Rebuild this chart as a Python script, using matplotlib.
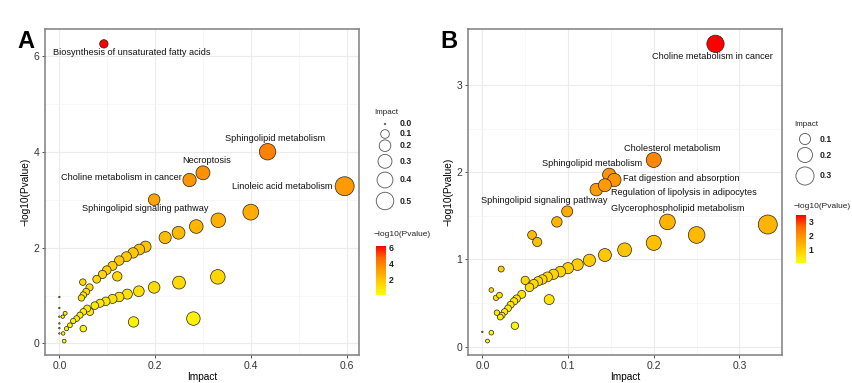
import matplotlib
matplotlib.use("Agg")
import matplotlib.pyplot as plt
import numpy as np
from matplotlib.colors import LinearSegmentedColormap, Normalize
from matplotlib.cm import ScalarMappable

plt.rcParams["font.family"] = ["Liberation Sans", "DejaVu Sans"]

# ---- panel A data (Impact, -log10(Pvalue)) ----
a_impact = [0.093, 0.435, 0.30, 0.272, 0.596, 0.198,
            0.40, 0.332, 0.286, 0.249, 0.221, 0.18, 0.167, 0.154, 0.14, 0.125,
            0.111, 0.099, 0.09, 0.078, 0.063, 0.056, 0.05, 0.046,
            0.049, 0.121,
            0.331, 0.25, 0.198, 0.166, 0.142, 0.125, 0.111, 0.097, 0.085, 0.074,
            0.064, 0.058, 0.05, 0.043, 0.036, 0.029, 0.022, 0.015, 0.008,
            0.28, 0.155, 0.05,
            0.0, 0.0, 0.0, 0.0, 0.0, 0.0, 0.012, 0.007, 0.01]
a_logp = [6.25, 4.00, 3.56, 3.41, 3.28, 3.00,
          2.74, 2.57, 2.44, 2.31, 2.21, 2.02, 1.96, 1.89, 1.81, 1.73,
          1.62, 1.53, 1.44, 1.34, 1.17, 1.08, 1.01, 0.95,
          1.28, 1.40,
          1.39, 1.27, 1.17, 1.09, 1.03, 0.97, 0.93, 0.88, 0.84, 0.79,
          0.66, 0.73, 0.66, 0.59, 0.52, 0.47, 0.38, 0.31, 0.21,
          0.52, 0.45, 0.31,
          0.97, 0.74, 0.56, 0.42, 0.32, 0.21, 0.63, 0.56, 0.05]
a_labels = ["Biosynthesis of unsaturated fatty acids", "Sphingolipid metabolism",
            "Necroptosis", "Choline metabolism in cancer",
            "Linoleic acid metabolism", "Sphingolipid signaling pathway"]

# ---- panel B data ----
b_impact = [0.272, 0.2, 0.148, 0.154, 0.133, 0.099, 0.216,
            0.143, 0.087, 0.058, 0.064, 0.333, 0.25, 0.2, 0.166, 0.143, 0.125,
            0.111, 0.1, 0.091, 0.083, 0.076, 0.070, 0.065, 0.060, 0.055, 0.05,
            0.046, 0.040, 0.037, 0.033, 0.030, 0.026, 0.023, 0.021,
            0.078, 0.038, 0.022, 0.0105, 0.016, 0.020, 0.017, 0.0105, 0.006, 0.0]
b_logp = [3.47, 2.14, 1.97, 1.91, 1.80, 1.55, 1.43,
          1.85, 1.43, 1.28, 1.20, 1.40, 1.28, 1.19, 1.11, 1.05, 0.99,
          0.94, 0.90, 0.86, 0.83, 0.80, 0.77, 0.75, 0.72, 0.68, 0.76,
          0.60, 0.55, 0.52, 0.48, 0.44, 0.40, 0.36, 0.34,
          0.54, 0.24, 0.89, 0.65, 0.56, 0.59, 0.39, 0.16, 0.065, 0.17]
b_labels = ["Choline metabolism in cancer", "Cholesterol metabolism",
            "Sphingolipid metabolism", "Fat digestion and absorption",
            "Regulation of lipolysis in adipocytes",
            "Sphingolipid signaling pathway", "Glycerophospholipid metabolism"]

a_size_breaks = [0.0, 0.1, 0.2, 0.3, 0.4, 0.5]
b_size_breaks = [0.1, 0.2, 0.3]
a_cbar_ticks = [2, 4, 6]
b_cbar_ticks = [1, 2, 3]

# label offsets in px (dx, dy up) and horizontal alignment
a_offsets = [(28, -9, "center"), (8, 13, "center"), (4, 12, "center"),
             (-8, 3, "right"), (-12, 0, "right"), (-9, -9, "center")]
b_offsets = [(-3, -13, "center"), (19, 11, "center"), (-17, 11, "center"),
             (9, 1, "left"), (15, -3, "left"), (-23, 11, "center"),
             (10, 13, "center")]

cmap = LinearSegmentedColormap.from_list(
    "yr", ["#FFFF00", "#FFCF00", "#FF9F00", "#FF6A00", "#FF0000"])

W, H, DPI = 852, 383, 100
PX = 72.0 / DPI


def sizes(x, xmax):
    d = 1.5 + 17.5 * np.sqrt(np.asarray(x) / xmax)
    return (d * PX) ** 2


fig = plt.figure(figsize=(W / DPI, H / DPI), dpi=DPI)
overlay = fig.add_axes([0, 0, 1, 1], zorder=5)
overlay.set_xlim(0, W)
overlay.set_ylim(H, 0)
overlay.axis("off")


def panel(left, impact, logp, labels, offsets, xlim, ylim, xticks, yticks,
          ymajor_minor, letter, leg):
    ax = fig.add_axes([left / W, (H - 355) / H, 314 / W, 326 / H])
    impact = np.asarray(impact)
    logp = np.asarray(logp)
    xmax = impact.max()
    norm = Normalize(logp.min(), logp.max())
    ax.scatter(impact, logp, s=sizes(impact, xmax), c=logp, cmap=cmap,
               norm=norm, edgecolors="#222222", linewidths=0.5, zorder=3)
    for i, (lab, (dx, dy, ha)) in enumerate(zip(labels, offsets)):
        ax.annotate(lab, (impact[i], logp[i]), xytext=(dx * PX, dy * PX),
                    textcoords="offset points", ha=ha, va="center",
                    fontsize=6.6, color="#111111", zorder=4)
    ax.set_xlim(*xlim)
    ax.set_ylim(*ylim)
    ax.set_xticks(xticks)
    ax.set_yticks(yticks)
    ax.set_xticklabels([f"{t:.1f}" for t in xticks])
    ax.set_yticklabels([f"{t:g}" for t in yticks])
    ax.set_yticks(ymajor_minor, minor=True)
    ax.set_xticks([(a + b) / 2 for a, b in zip(xticks[:-1], xticks[1:])],
                  minor=True)
    ax.grid(True, which="major", color="#EBEBEB", linewidth=0.8, zorder=0)
    ax.grid(True, which="minor", color="#F4F4F4", linewidth=0.5, zorder=0)
    ax.set_axisbelow(True)
    ax.tick_params(which="minor", length=0)
    ax.tick_params(which="major", length=2.5, width=0.6, color="#333333",
                   labelsize=7.5, labelcolor="#333333", pad=1.5)
    for sp in ax.spines.values():
        sp.set_color("#7F7F7F")
        sp.set_linewidth(1.1)
    ax.set_xlabel("Impact", fontsize=7.3, labelpad=1)
    ax.set_ylabel("\u2212log10(Pvalue)", fontsize=7.3, labelpad=2)
    fig.text((left - 28) / W, 1 - 42 / H, letter, fontsize=17,
             fontweight="bold", ha="left", va="center")

    # size legend
    lx, title_y, item_y, breaks, cb_title_y, cb_top, cb_bot, ticks = leg
    overlay.text(lx, title_y, "Impact", fontsize=5.8, ha="left", va="center",
                 color="#222222")
    overlay.scatter([lx + 11] * len(breaks), item_y, s=sizes(breaks, xmax),
                    facecolors="white", edgecolors="#555555", linewidths=0.6)
    for yv, b in zip(item_y, breaks):
        overlay.text(lx + 26, yv, f"{b:.1f}", fontsize=6.2, ha="left",
                     va="center", color="#222222", fontweight="bold")
    overlay.text(lx, cb_title_y, "\u2212log10(Pvalue)", fontsize=6,
                 ha="left", va="center", color="#222222")
    cax = fig.add_axes([(lx + 2) / W, (H - cb_bot) / H, 10 / W,
                        (cb_bot - cb_top) / H])
    cb = fig.colorbar(ScalarMappable(norm=norm, cmap=cmap), cax=cax)
    cb.outline.set_visible(False)
    cb.set_ticks(ticks)
    cb.ax.tick_params(length=0, labelsize=6.2, pad=2, labelcolor="#222222")
    for t in cb.ax.get_yticklabels():
        t.set_fontweight("bold")
    return ax


panel(45, a_impact, a_logp, a_labels, a_offsets, (-0.03, 0.626),
      (-0.24, 6.56), [0.0, 0.2, 0.4, 0.6], [0, 2, 4, 6], [1, 3, 5], "A",
      (374, 112, [124, 134, 145.7, 161.3, 180, 201], a_size_breaks,
       235, 246, 295, a_cbar_ticks))
panel(468, b_impact, b_logp, b_labels, b_offsets, (-0.0167, 0.3496),
      (-0.095, 3.64), [0.0, 0.1, 0.2, 0.3], [0, 1, 2, 3], [0.5, 1.5, 2.5],
      "B",
      (794, 125, [139, 155, 176], b_size_breaks,
       207, 215, 263, b_cbar_ticks))

fig.savefig("out.png", dpi=DPI)
